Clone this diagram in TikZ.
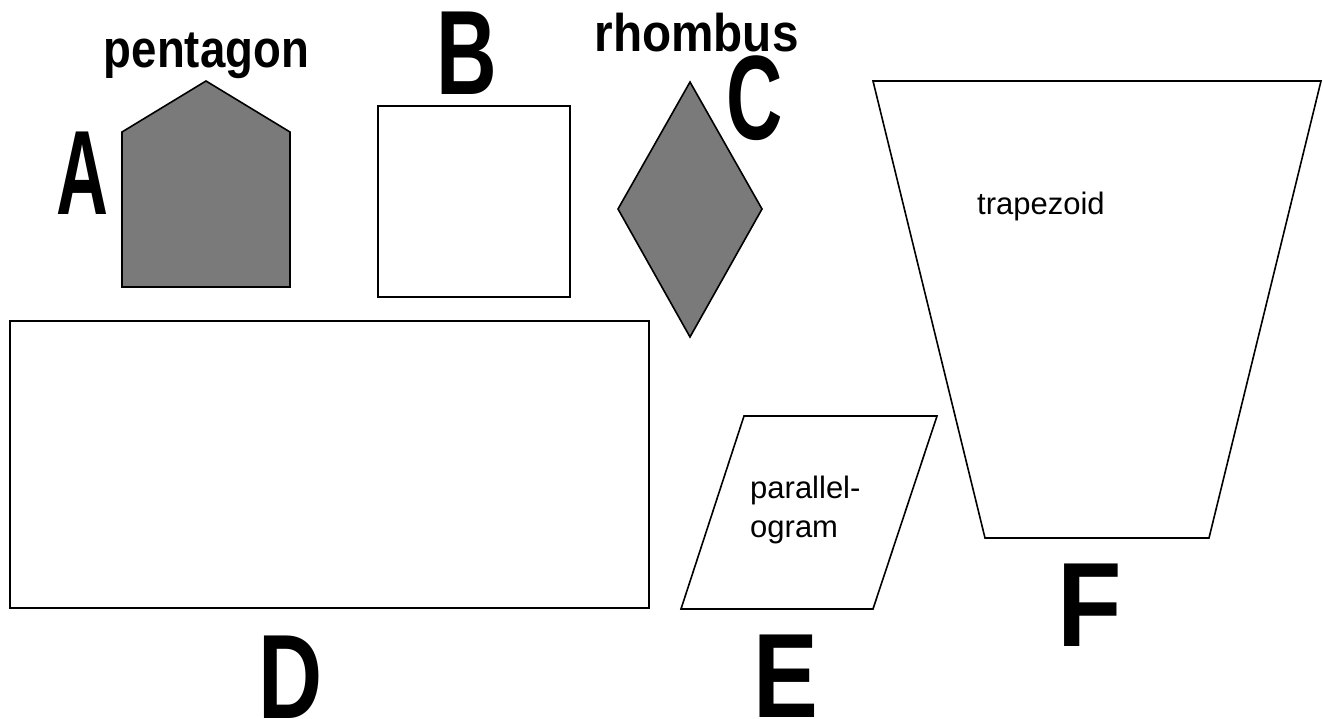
\documentclass[tikz,border=0pt]{standalone}
\usepackage{fontspec}
\setmainfont{Liberation Sans}
\definecolor{midgray}{RGB}{122,122,122}
\newcommand{\narrowglyph}[2]{\scalebox{#1}[1]{#2}}
\tikzset{
  outline/.style={draw=black, line width=1.6pt, line join=miter},
  shaded/.style={outline, fill=midgray},
  bigletter/.style={inner sep=0pt, anchor=base, font=\bfseries\fontsize{120}{120}\selectfont},
  headlabel/.style={inner sep=0pt, anchor=base, font=\bfseries\fontsize{53}{53}\selectfont},
  innerlabel/.style={inner sep=0pt, anchor=base west, font=\fontsize{31}{39}\selectfont, align=left},
}
\begin{document}
\begin{tikzpicture}[x=1pt, y=-1pt]
  \useasboundingbox (0,0) rectangle (1323,719);

  % pentagon
  \path[shaded] (206,81) -- (290,132) -- (290,287) -- (122,287) -- (122,132) -- cycle;
  \node[headlabel] (pentlabel) at (206.5,68) {\narrowglyph{0.86}{pentagon}};
  \node[bigletter] (letterA) at (82.5,215) {\narrowglyph{0.6}{A}};

  % square
  \path[outline] (378,106) rectangle (570,297);
  \node[bigletter] (letterB) at (467,95) {\narrowglyph{0.7}{B}};

  % rhombus
  \path[shaded] (690,82) -- (762,209) -- (690,337) -- (618,209) -- cycle;
  \node[bigletter] (letterC) at (755,140) {\narrowglyph{0.65}{C}};
  \node[headlabel] (rhomblabel) at (696.5,52) {\narrowglyph{0.9}{rhombus}};

  % wide rectangle
  \path[outline] (10,321) rectangle (649,608);
  \node[bigletter] (letterD) at (290.5,718) {\narrowglyph{0.74}{D}};

  % parallelogram
  \path[outline] (744,416) -- (937,416) -- (873,609) -- (681,609) -- cycle;
  \node[innerlabel] (parlabel) at (750,537) {parallel-\\ogram};
  \node[bigletter] (letterE) at (786,717) {\narrowglyph{0.81}{E}};

  % trapezoid
  \path[outline] (873,81) -- (1321,81) -- (1209,538) -- (985,538) -- cycle;
  \node[innerlabel] (traplabel) at (977,215) {trapezoid};
  \node[bigletter] (letterF) at (1090,646) {\narrowglyph{0.88}{F}};
\end{tikzpicture}
\end{document}
